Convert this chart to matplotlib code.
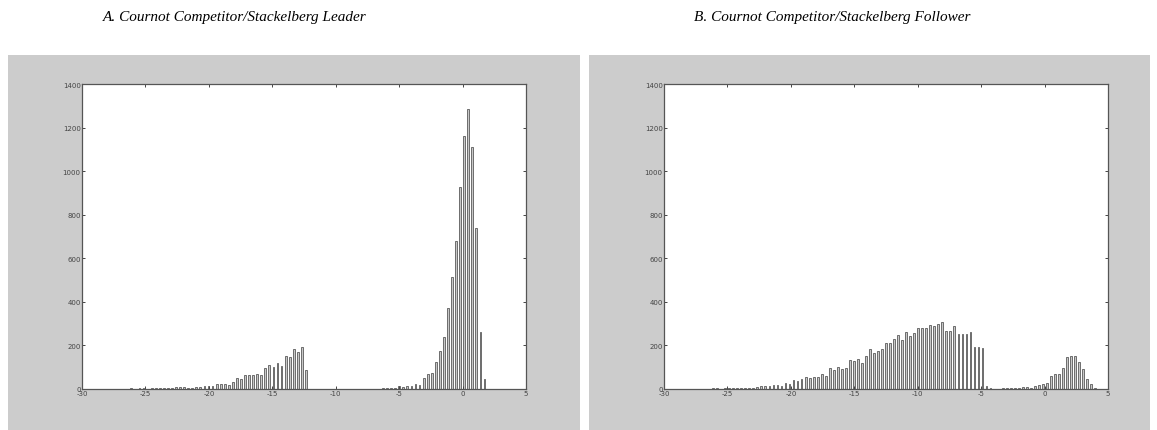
import numpy as np
import matplotlib.pyplot as plt
from matplotlib.patches import Rectangle

plt.rcParams["axes.unicode_minus"] = False

# histogram counts
leader_start = -28.03
leader_step = 0.32
leader_counts = [
    0, 0, 1, 1, 2, 2,
    3, 2, 4, 3, 2, 3, 3,
    4, 3, 4, 5,
    8, 8, 7, 6, 6, 8, 8,
    15, 14, 16, 22, 22, 22, 20, 30, 50, 45, 62, 62, 62, 67, 65,
    98, 108, 100, 120, 105, 152, 148, 185, 170, 193, 85,
    0, 0, 1, 0, 0, 0, 1, 0, 0, 1, 0, 0, 1, 1, 0, 1,
    2, 1, 3, 3, 5, 4,
    15, 8, 12, 12, 22, 20, 52, 68, 72, 125, 175, 237, 372, 513,
    680, 925, 1163, 1284, 1110, 737, 263, 45,
]

follower_start = -27.08
follower_step = 0.317
follower_counts = [
    1, 1, 2, 3, 3, 2, 3, 4,
    5, 3, 3, 3, 3, 5, 8, 15, 15, 15,
    20, 20, 15, 28, 25, 40, 37, 48, 55, 50,
    55, 57, 68, 60, 98, 85, 102, 90, 98, 135,
    130, 140, 120, 150, 182, 165, 175, 185, 210, 210,
    230, 250, 225, 263, 245, 255, 280, 282, 280, 292,
    290, 298,
    308, 265, 267, 287, 252, 252, 252, 260, 195, 193, 188,
    14, 3, 2, 2, 3, 4, 4, 4, 5, 8, 8, 6,
    15, 20, 25, 28, 58, 68, 70, 98, 145, 152, 152, 122, 93, 48, 22, 5,
]

titles = [
    "A. Cournot Competitor/Stackelberg Leader",
    "B. Cournot Competitor/Stackelberg Follower",
]
x_ticks = [-30, -25, -20, -15, -10, -5, 0, 5]
y_ticks = [0, 200, 400, 600, 800, 1000, 1200, 1400]

W, H = 1157, 431
fig = plt.figure(figsize=(W / 100, H / 100), dpi=100)
fig.patch.set_facecolor("white")

# gray MATLAB figure backgrounds
for x0, x1 in [(8, 580), (589, 1150)]:
    fig.patches.append(Rectangle((x0 / W, 0), (x1 - x0) / W, (H - 56) / H,
                                 transform=fig.transFigure, facecolor="#cccccc",
                                 edgecolor="none", zorder=-5))

title_x = [103, 694]
axes_left = [82, 664]
panels = [
    (leader_start, leader_step, leader_counts),
    (follower_start, follower_step, follower_counts),
]

for k, (start, step, counts) in enumerate(panels):
    ax = fig.add_axes([axes_left[k] / W, 41 / H, 444 / W, 305 / H])
    ax.set_zorder(2)
    centers = start + step * np.arange(len(counts))
    ax.bar(centers, counts, width=step * 0.45, facecolor="#c8c8c8",
           edgecolor="#5a5a5a", linewidth=0.6)
    ax.set_xlim(-30, 5)
    ax.set_ylim(0, 1400)
    ax.set_xticks(x_ticks)
    ax.set_yticks(y_ticks)
    ax.tick_params(direction="in", length=2.5, width=0.7, top=True, right=True,
                   labelsize=5, colors="#444444", pad=1)
    for s in ax.spines.values():
        s.set_color("#555555")
        s.set_linewidth(0.9)
    ax.set_facecolor("white")
    fig.text(title_x[k] / W, 1 - 18 / H, titles[k], ha="left", va="center",
             fontsize=11, style="italic", family="Liberation Serif")

fig.savefig("out.png", dpi=100, facecolor=fig.get_facecolor())
